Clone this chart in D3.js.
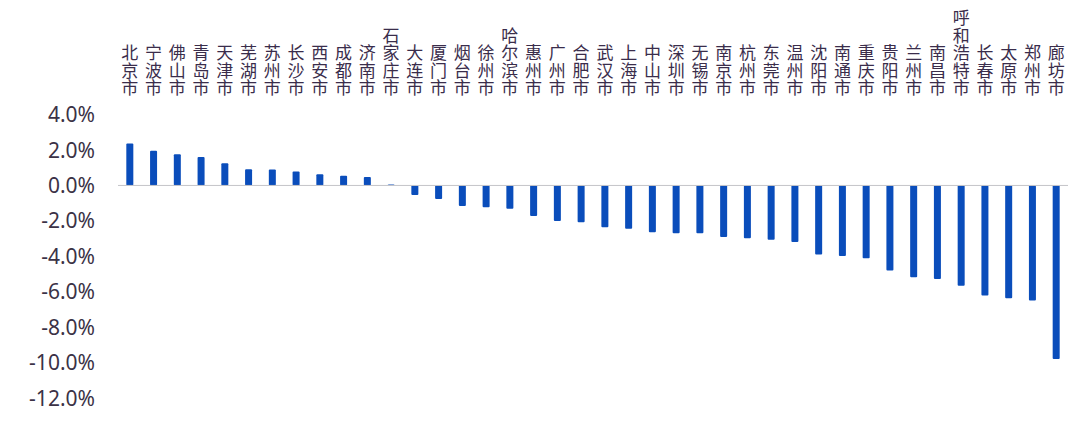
<!DOCTYPE html>
<html><head><meta charset="utf-8">
<script src="https://cdn.jsdelivr.net/npm/d3@7"></script>
<style>html,body{margin:0;padding:0;background:#fff;}</style>
</head><body>
<svg id="chart" width="1092" height="434"></svg>
<script>
const categories = ["北京市","宁波市","佛山市","青岛市","天津市","芜湖市","苏州市","长沙市","西安市","成都市","济南市","石家庄市","大连市","厦门市","烟台市","徐州市","哈尔滨市","惠州市","广州市","合肥市","武汉市","上海市","中山市","深圳市","无锡市","南京市","杭州市","东莞市","温州市","沈阳市","南通市","重庆市","贵阳市","兰州市","南昌市","呼和浩特市","长春市","太原市","郑州市","廊坊市"];
const values = [2.36,1.95,1.76,1.61,1.25,0.92,0.90,0.78,0.63,0.55,0.48,0.05,-0.54,-0.76,-1.16,-1.23,-1.31,-1.72,-2.00,-2.08,-2.36,-2.44,-2.64,-2.70,-2.70,-2.91,-2.98,-3.06,-3.19,-3.89,-3.98,-4.11,-4.79,-5.17,-5.28,-5.66,-6.20,-6.36,-6.49,-9.79];
const yTicks = [4,2,0,-2,-4,-6,-8,-10,-12];

const svg = d3.select("#chart");
const x = d3.scaleBand().domain(categories).range([118,1068]).paddingInner(0.705).paddingOuter(0.35);
const y = d3.scaleLinear().domain([-12,4]).range([398.3,114.5]);

// y tick labels
svg.append("g").selectAll("text").data(yTicks).join("text")
  .attr("x",95).attr("y",d=>y(d)).attr("dy","0.36em")
  .attr("text-anchor","end")
  .attr("font-family","'Noto Sans', sans-serif").attr("font-size",21)
  .attr("fill","#3b3246")
  .text(d=>d.toFixed(1)+"%");

// bars
svg.append("g").selectAll("rect").data(values).join("rect")
  .attr("x",(d,i)=>x(categories[i]))
  .attr("width",x.bandwidth())
  .attr("y",d=>d>=0?y(d):y(0))
  .attr("height",d=>Math.abs(y(d)-y(0)))
  .attr("rx",1)
  .attr("fill","#0a4dbb");

// zero line
svg.append("line").attr("x1",118).attr("x2",1068).attr("y1",y(0)).attr("y2",y(0))
  .attr("stroke","#c4c4c8").attr("stroke-width",1);

// category labels: vertical text, bottom aligned
svg.append("g").selectAll("text").data(categories).join("text")
  .attr("x",c=>x(c)+x.bandwidth()/2)
  .attr("y",97)
  .attr("text-anchor","end")
  .style("writing-mode","vertical-rl")
  .style("text-orientation","upright")
  .attr("letter-spacing",0.6)
  .attr("font-family","'Noto Sans CJK SC', sans-serif").attr("font-size",17)
  .attr("fill","#3a2d4b")
  .text(c=>c);
</script>
</body></html>
